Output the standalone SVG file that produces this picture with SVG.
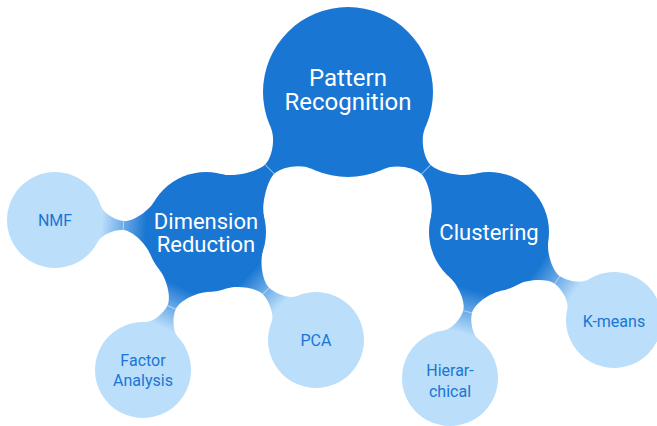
<svg xmlns="http://www.w3.org/2000/svg" width="657" height="426" viewBox="0 0 657 426">
  <style>
    .dark { fill: #1976D2; }
    .light { fill: #BBDEFB; }
    .neck { stroke: #ffffff; stroke-opacity: 0.5; stroke-width: 1; fill: none; }
    .t-root { font-family: Roboto, "Liberation Sans", sans-serif; font-size: 24px; fill: #ffffff; text-anchor: middle; }
    .t-mid { font-family: Roboto, "Liberation Sans", sans-serif; font-size: 22px; fill: #ffffff; text-anchor: middle; }
    .t-leaf { font-family: Roboto, "Liberation Sans", sans-serif; font-size: 16px; fill: #1976D2; text-anchor: middle; }
  </style>
  <defs>
    <!-- bridges are drawn in a local frame: parent at the origin, child on the +x axis -->
    <linearGradient id="fade" gradientUnits="userSpaceOnUse" x1="60" y1="0" x2="105" y2="0">
      <stop offset="0" stop-color="#1976D2"/>
      <stop offset="1" stop-color="#BBDEFB"/>
    </linearGradient>
  </defs>
  <rect width="657" height="426" fill="#ffffff"/>

  <g id="connectors">
    <!-- root to Dimension Reduction -->
    <g transform="translate(348,92) rotate(135.4)">
      <path class="dark" d="M79.87,29.07 C83.97,17.79 100,6.5 110,6.5 C120,6.5 141.44,19.61 147.44,30 L147.44,-30 C141.44,-19.61 120,-6.5 110,-6.5 C100,-6.5 83.97,-17.79 79.87,-29.07 Z"/>
      <line class="neck" x1="110" y1="-6.5" x2="110" y2="6.5"/>
    </g>
    <!-- root to Clustering -->
    <g transform="translate(348,92) rotate(44.8)">
      <path class="dark" d="M79.87,29.07 C83.97,17.79 100,6.5 110,6.5 C120,6.5 140.74,19.61 146.74,30 L146.74,-30 C140.74,-19.61 120,-6.5 110,-6.5 C100,-6.5 83.97,-17.79 79.87,-29.07 Z"/>
      <line class="neck" x1="110" y1="-6.5" x2="110" y2="6.5"/>
    </g>
    <!-- Dimension Reduction to NMF -->
    <g transform="translate(206,232) rotate(184.5)">
      <path fill="url(#fade)" d="M53.93,26.3 C58.31,17.31 72.8,4.5 82.8,4.5 C90.8,4.5 104,10.56 107,17.98 L107,-17.98 C104,-10.56 90.8,-4.5 82.8,-4.5 C72.8,-4.5 58.31,-17.31 53.93,-26.3 Z"/>
      <line class="neck" x1="82.8" y1="-4.5" x2="82.8" y2="4.5"/>
    </g>
    <!-- Dimension Reduction to Factor Analysis -->
    <g transform="translate(206,232) rotate(114.5)">
      <path fill="url(#fade)" d="M53.93,26.3 C58.31,17.31 72.9,4.5 82.9,4.5 C90.9,4.5 104.2,10.56 107.2,17.98 L107.2,-17.98 C104.2,-10.56 90.9,-4.5 82.9,-4.5 C72.9,-4.5 58.31,-17.31 53.93,-26.3 Z"/>
      <line class="neck" x1="82.9" y1="-4.5" x2="82.9" y2="4.5"/>
    </g>
    <!-- Dimension Reduction to PCA -->
    <g transform="translate(206,232) rotate(44.5)">
      <path fill="url(#fade)" d="M53.93,26.3 C58.31,17.31 74.1,4.5 84.1,4.5 C92.1,4.5 106.7,10.56 109.7,17.98 L109.7,-17.98 C106.7,-10.56 92.1,-4.5 84.1,-4.5 C74.1,-4.5 58.31,-17.31 53.93,-26.3 Z"/>
      <line class="neck" x1="84.1" y1="-4.5" x2="84.1" y2="4.5"/>
    </g>
    <!-- Clustering to Hierarchical -->
    <g transform="translate(489,232) rotate(105)">
      <path fill="url(#fade)" d="M53.93,26.3 C58.31,17.31 72.6,4.5 82.6,4.5 C90.6,4.5 103.6,10.56 106.6,17.98 L106.6,-17.98 C103.6,-10.56 90.6,-4.5 82.6,-4.5 C72.6,-4.5 58.31,-17.31 53.93,-26.3 Z"/>
      <line class="neck" x1="82.6" y1="-4.5" x2="82.6" y2="4.5"/>
    </g>
    <!-- Clustering to K-means -->
    <g transform="translate(489,232) rotate(35.1)">
      <path fill="url(#fade)" d="M53.93,26.3 C58.31,17.31 73.5,4.5 83.5,4.5 C91.5,4.5 105.4,10.56 108.4,17.98 L108.4,-17.98 C105.4,-10.56 91.5,-4.5 83.5,-4.5 C73.5,-4.5 58.31,-17.31 53.93,-26.3 Z"/>
      <line class="neck" x1="83.5" y1="-4.5" x2="83.5" y2="4.5"/>
    </g>
  </g>

  <g id="pattern-recognition">
    <circle class="dark" cx="348" cy="92" r="85"/>
    <text class="t-root" x="348" y="85.5">Pattern</text>
    <text class="t-root" x="348" y="109.5">Recognition</text>
  </g>
  <g id="dimension-reduction">
    <circle class="dark" cx="206" cy="232" r="60"/>
    <text class="t-mid" x="206" y="229">Dimension</text>
    <text class="t-mid" x="206" y="252">Reduction</text>
  </g>
  <g id="clustering">
    <circle class="dark" cx="489" cy="232" r="60"/>
    <text class="t-mid" x="489" y="240">Clustering</text>
  </g>
  <g id="nmf">
    <circle class="light" cx="55" cy="220" r="48"/>
    <text class="t-leaf" x="55" y="226">NMF</text>
  </g>
  <g id="factor-analysis">
    <circle class="light" cx="143" cy="370" r="48"/>
    <text class="t-leaf" x="143" y="366">Factor</text>
    <text class="t-leaf" x="143" y="386">Analysis</text>
  </g>
  <g id="pca">
    <circle class="light" cx="316" cy="340" r="48"/>
    <text class="t-leaf" x="316" y="346">PCA</text>
  </g>
  <g id="hierarchical">
    <circle class="light" cx="450" cy="378" r="48"/>
    <text class="t-leaf" x="450" y="376">Hierar-</text>
    <text class="t-leaf" x="450" y="397">chical</text>
  </g>
  <g id="k-means">
    <circle class="light" cx="614" cy="320" r="48"/>
    <text class="t-leaf" x="614" y="327">K-means</text>
  </g>
</svg>
